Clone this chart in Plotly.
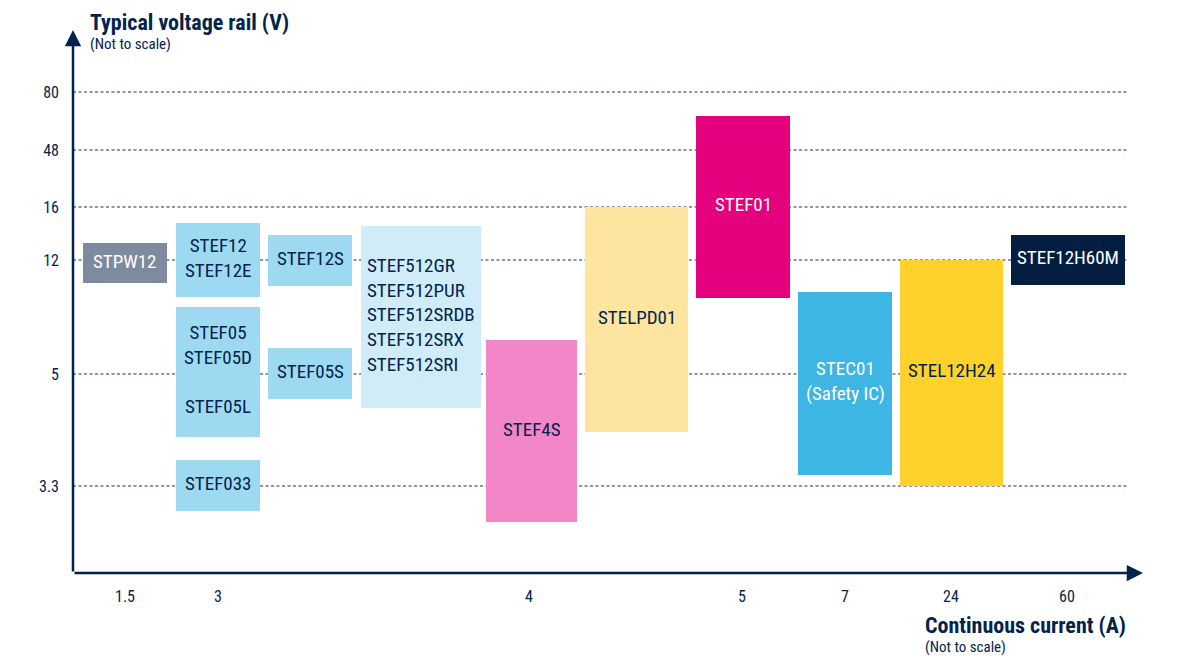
import plotly.graph_objects as go

# ---------------- data ----------------
# Voltage rails (not to scale): label -> position on the vertical layout scale
rail_labels = ["3.3", "5", "12", "16", "48", "80"]
rail_pos = [1.0, 1.991, 3.0, 3.469, 3.973, 4.487]

# Continuous current (not to scale): label -> position on the horizontal layout scale
current_labels = ["1.5", "3", "4", "5", "7", "24", "60"]
current_pos = [0.52, 1.45, 4.56, 6.69, 7.72, 8.78, 9.94]

names = ["STPW12", "STEF12", "STEF05", "STEF033", "STEF12S", "STEF05S",
         "STEF512", "STEF4S", "STELPD01", "STEF01", "STEC01", "STEL12H24",
         "STEF12H60M"]
labels = ["STPW12", "STEF12<br>STEF12E", "STEF05<br>STEF05D<br><br>STEF05L",
          "STEF033", "STEF12S", "STEF05S",
          "STEF512GR<br>STEF512PUR<br>STEF512SRDB<br>STEF512SRX<br>STEF512SRI",
          "STEF4S", "STELPD01", "STEF01", "STEC01<br>(Safety IC)", "STEL12H24",
          "STEF12H60M"]
x_start = [0.10, 1.03, 1.03, 1.03, 1.95, 1.95, 2.88, 4.13, 5.12, 6.23, 7.25, 8.27, 9.38]
x_end = [0.94, 1.87, 1.87, 1.87, 2.79, 2.79, 4.08, 5.04, 6.15, 7.17, 8.19, 9.30, 10.52]
v_low = [2.796, 2.673, 1.434, 0.779, 2.770, 1.770, 1.690, 0.681, 1.478, 2.664, 1.097, 1.0, 2.779]
v_high = [3.150, 3.327, 2.584, 1.230, 3.221, 2.221, 3.301, 2.292, 3.469, 4.274, 2.717, 3.0, 3.221]

fill_colors = ["#7E8B9E", "#9DDAF1", "#9DDAF1", "#9DDAF1", "#9DDAF1", "#9DDAF1",
               "#CFECF8", "#F386C7", "#FDE49F", "#E5007E", "#3DB6E3", "#FFD22B",
               "#031E41"]
text_colors = ["#FFFFFF", "#03234B", "#03234B", "#03234B", "#03234B", "#03234B",
               "#03234B", "#03234B", "#03234B", "#FFFFFF", "#FFFFFF", "#03234B",
               "#FFFFFF"]
text_align = ["center"] * 6 + ["left"] + ["center"] * 6

# ---------------- style ----------------
NAVY = "#03234B"
GRID = "#8B96AA"
FONT = "Liberation Sans Narrow, Arial Narrow, Roboto Condensed, Roboto, sans-serif"

x_range = [0, 10.7]
y_range = [0.23, 5.035]
grid_end = 10.54

centers = [(a + b) / 2 for a, b in zip(x_start, x_end)]
widths = [b - a for a, b in zip(x_start, x_end)]
heights = [h - l for l, h in zip(v_low, v_high)]
mids = [(l + h) / 2 for l, h in zip(v_low, v_high)]

fig = go.Figure()
fig.add_trace(go.Bar(
    x=centers, y=heights, base=v_low, width=widths,
    marker=dict(color=fill_colors, line=dict(width=0)),
    hovertext=names, hoverinfo="text", showlegend=False,
))

annotations = []
for cx, cy, t, c, al in zip(centers, mids, labels, text_colors, text_align):
    annotations.append(dict(
        x=cx, y=cy, xref="x", yref="y", text=t, showarrow=False,
        xanchor="center", yanchor="middle", align=al, yshift=2,
        font=dict(family=FONT, size=19, color=c),
    ))

# axis arrows
annotations.append(dict(x=x_range[0], y=y_range[1], ax=x_range[0], ay=y_range[0],
                        xref="x", yref="y", axref="x", ayref="y", text="",
                        showarrow=True, arrowhead=2, arrowsize=1.3, arrowwidth=2.5,
                        arrowcolor=NAVY))
annotations.append(dict(x=x_range[1], y=y_range[0], ax=x_range[0], ay=y_range[0],
                        xref="x", yref="y", axref="x", ayref="y", text="",
                        showarrow=True, arrowhead=2, arrowsize=1.3, arrowwidth=2.5,
                        arrowcolor=NAVY))

# axis titles
annotations += [
    dict(x=0.014, y=1.0147, xref="paper", yref="paper", xanchor="left", yanchor="middle",
         text="<b>Typical voltage rail (V)</b>", showarrow=False,
         font=dict(family=FONT, size=22, color=NAVY)),
    dict(x=0.014, y=0.974, xref="paper", yref="paper", xanchor="left", yanchor="middle",
         text="(Not to scale)", showarrow=False,
         font=dict(family=FONT, size=15, color=NAVY)),
    dict(x=0.794, y=-0.0976, xref="paper", yref="paper", xanchor="left", yanchor="middle",
         text="<b>Continuous current (A)</b>", showarrow=False,
         font=dict(family=FONT, size=22, color=NAVY)),
    dict(x=0.794, y=-0.136, xref="paper", yref="paper", xanchor="left", yanchor="middle",
         text="(Not to scale)", showarrow=False,
         font=dict(family=FONT, size=15, color=NAVY)),
]

shapes = [dict(type="line", xref="x", yref="y", x0=x_range[0], x1=grid_end, y0=p, y1=p,
               line=dict(color=GRID, width=2, dash="3px,2.5px"), layer="below")
          for p in rail_pos]

fig.update_layout(
    width=1187, height=658,
    margin=dict(l=65, r=52, t=22, b=93),
    paper_bgcolor="white", plot_bgcolor="white",
    font=dict(family=FONT, color=NAVY),
    annotations=annotations, shapes=shapes,
    showlegend=False,
    xaxis=dict(range=x_range, tickvals=current_pos, ticktext=current_labels,
               showgrid=False, zeroline=False, showline=False, ticks="",
               ticklabelstandoff=12, tickfont=dict(family=FONT, size=16, color=NAVY),
               fixedrange=True),
    yaxis=dict(range=y_range, tickvals=rail_pos, ticktext=rail_labels,
               showgrid=False, zeroline=False, showline=False, ticks="",
               ticklabelstandoff=13, tickfont=dict(family=FONT, size=16, color=NAVY),
               fixedrange=True),
)

fig.write_html("out.html")
